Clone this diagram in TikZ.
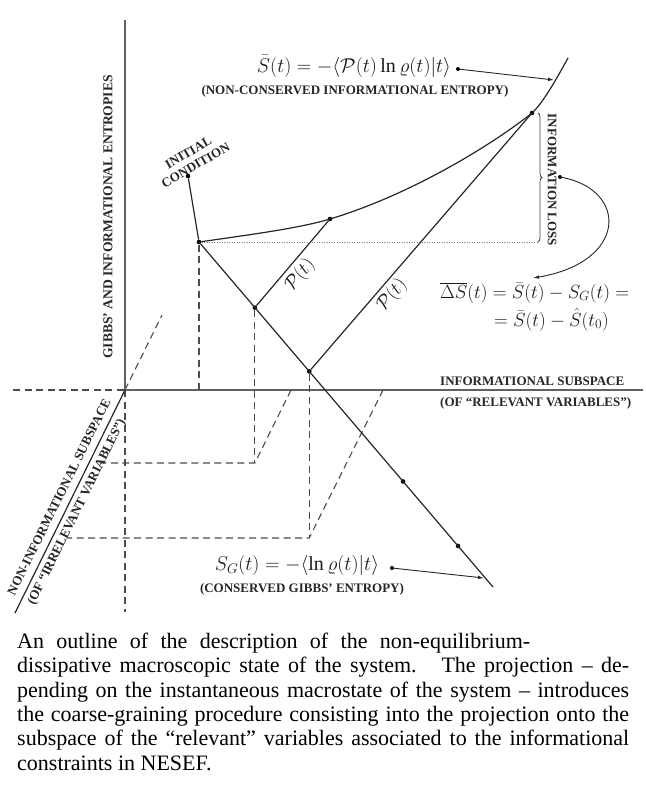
\RequirePackage{fix-cm}
\documentclass[tikz,border=0pt]{standalone}
\usepackage{fontspec}
\setmainfont{Liberation Serif}
\usetikzlibrary{arrows.meta,calc,decorations.pathreplacing}
\begin{document}
\begin{tikzpicture}[x=1pt,y=-1pt,
  axis/.style={line width=1.9pt, draw=black!62},
  solidline/.style={line width=1.2pt, draw=black!85},
  dashline/.style={line width=1.1pt, draw=black!70, dash pattern=on 7pt off 4.5pt},
  dotline/.style={line width=0.8pt, draw=black!50, dash pattern=on 1pt off 1.5pt},
  dotpt/.style={circle, fill=black, inner sep=0pt, minimum size=4.6pt},
  lbl/.style={font=\fontsize{13}{14}\selectfont\bfseries, text=black!85, inner sep=0pt},
  frm/.style={font=\fontsize{19}{22}\selectfont, text=black!90, inner sep=0pt},
  bigfrm/.style={font=\fontsize{20}{23}\selectfont, text=black!90, inner sep=0pt},
  arr/.style={-{Latex[length=6pt,width=3.6pt]}, line width=0.9pt, draw=black!85},
]
\useasboundingbox (0,0) rectangle (645,792);

% axes
\coordinate (O) at (125,390);
\coordinate (Vtop) at (125,20);
\coordinate (Vlow) at (125,612);
\coordinate (Hright) at (643,390);
\coordinate (Hleft) at (13,390);
\coordinate (Dlow) at (15,613);
\coordinate (Dup) at (162,315);

\draw[dashline] (Hleft) -- (O);
\draw[dashline] (O) -- (Vlow);
\draw[dashline] (O) -- (Dup);
\draw[axis] (O) -- (Vtop);
\draw[axis] (O) -- (Hright);
\draw[solidline] (O) -- (Dlow);

% points
\node[dotpt] (A) at (199,242) {};
\node[dotpt] (IC) at (188,176) {};
\coordinate (E) at (493,587);
\node[dotpt] (B) at ($(A)!0.19!(E)$) {};
\node[dotpt] (C) at ($(A)!0.375!(E)$) {};
\node[dotpt] (D1) at ($(A)!0.694!(E)$) {};
\node[dotpt] (D2) at ($(A)!0.881!(E)$) {};
\node[dotpt] (Bc) at (330,219) {};
\node[dotpt] (Cc) at (532,113) {};

% curve (non-conserved informational entropy)
\coordinate (Ctop) at (568,58);
\draw[solidline] (A.center) .. controls (255,234) and (300,228) .. (Bc.center)
  .. controls (410,195) and (492,145) .. (Cc.center)
  .. controls (543,103) and (557,78) .. (Ctop);

% projections (dashed)
\coordinate (A0) at (A |- O);
\draw[dashline] (A) -- (A0);
\coordinate (Bl) at (100,463);
\coordinate (B2) at (B |- Bl);
\coordinate (Ba) at (291,390);
\draw[dashline] (B) -- (B2);
\draw[dashline] (Ba) -- (B2) -- (Bl);
\coordinate (Cl) at (67,538);
\coordinate (C2) at (C |- Cl);
\coordinate (Ca) at (383,390);
\draw[dashline] (C) -- (C2);
\draw[dashline] (Ca) -- (C2) -- (Cl);

% main lines
\draw[solidline] (IC) -- (A);
\draw[solidline] (A) -- (E);
\draw[solidline] (B) -- (Bc);
\draw[solidline] (C) -- (Cc);
\coordinate (Dt) at (537,242);
\draw[dotline] (A) -- (Dt);

% brace
\coordinate (BrT) at (538,113);
\coordinate (BrB) at (538,242);
\draw[line width=0.8pt, draw=black!75, decorate, decoration={brace,amplitude=4pt}] (BrT) -- (BrB);
\node[lbl, rotate=-90] (infoloss) at (552,180) {INFORMATION LOSS};
\node[dotpt, minimum size=4pt] (lossdot) at (560,177) {};
\coordinate (dsarrow) at (533,278);
\draw[arr] (lossdot) .. controls (628,190) and (628,262) .. (dsarrow);

% labels
\node[lbl, rotate=90, font=\fontsize{13.6}{15}\selectfont\bfseries] (ylbl) at (108,217) {GIBBS’ AND INFORMATIONAL ENTROPIES};
\node[lbl, rotate=30, align=center, font=\fontsize{13}{14.5}\selectfont\bfseries] (iclbl) at (192,159) {INITIAL\\CONDITION};
\node[lbl, anchor=base west] (xlbl1) at (440,385) {INFORMATIONAL SUBSPACE};
\node[lbl, anchor=base west] (xlbl2) at (440,406) {(OF “RELEVANT VARIABLES”)};
\node[lbl, rotate=63.7] (nonlbl) at (59,497) {NON-INFORMATIONAL SUBSPACE};
\node[lbl, rotate=63.7] (irrlbl) at (77,512) {(OF “IRRELEVANT VARIABLES”)};

\node[frm, rotate=49.6] (P1) at (300,275) {$\mathcal{P}(t)$};
\node[frm, rotate=49.2] (P2) at (392,295) {$\mathcal{P}(t)$};

% formulas
\node[bigfrm, anchor=base] (Sbar) at (354,72) {$\bar S(t) = -\langle\mathcal{P}(t)\ln\varrho(t)|t\rangle$};
\node[lbl, anchor=base] (Sbarlbl) at (355,94) {(NON-CONSERVED INFORMATIONAL ENTROPY)};
\node[dotpt, minimum size=4pt] (sdot) at (458,69) {};
\coordinate (sarr) at (554,80);
\draw[arr] (sdot) -- (sarr);

\node[frm, anchor=base west] (dS1) at (440,298) {$\overline{\Delta S}(t) = \bar S(t) - S_G(t) =$};
\node[frm, anchor=base west] (dS2) at (494,326) {$= \bar S(t) - \hat S(t_0)$};

\node[bigfrm, anchor=base] (SG) at (297,570) {$S_G(t) = -\langle\ln\varrho(t)|t\rangle$};
\node[lbl, anchor=base] (SGlbl) at (302,592) {(CONSERVED GIBBS’ ENTROPY)};
\node[dotpt, minimum size=4pt] (gdot) at (392,568) {};
\coordinate (garr) at (484,578);
\draw[arr] (gdot) -- (garr);

% caption
\node[anchor=north west, text width=612pt, inner sep=0pt, align=justify,
      font=\fontsize{22}{24.3}\selectfont] (cap) at (17,633)
{\makebox[513pt][s]{An outline of the description of the non-equilibrium-}\\
dissipative macroscopic state of the system.\hspace{0.4em} The projection -- de-\linebreak
pending on the instantaneous macrostate of the system -- introduces\linebreak
the coarse-graining procedure consisting into the projection onto the\linebreak
subspace of the “relevant” variables associated to the informational\linebreak
constraints in NESEF.};
\end{tikzpicture}
\end{document}
